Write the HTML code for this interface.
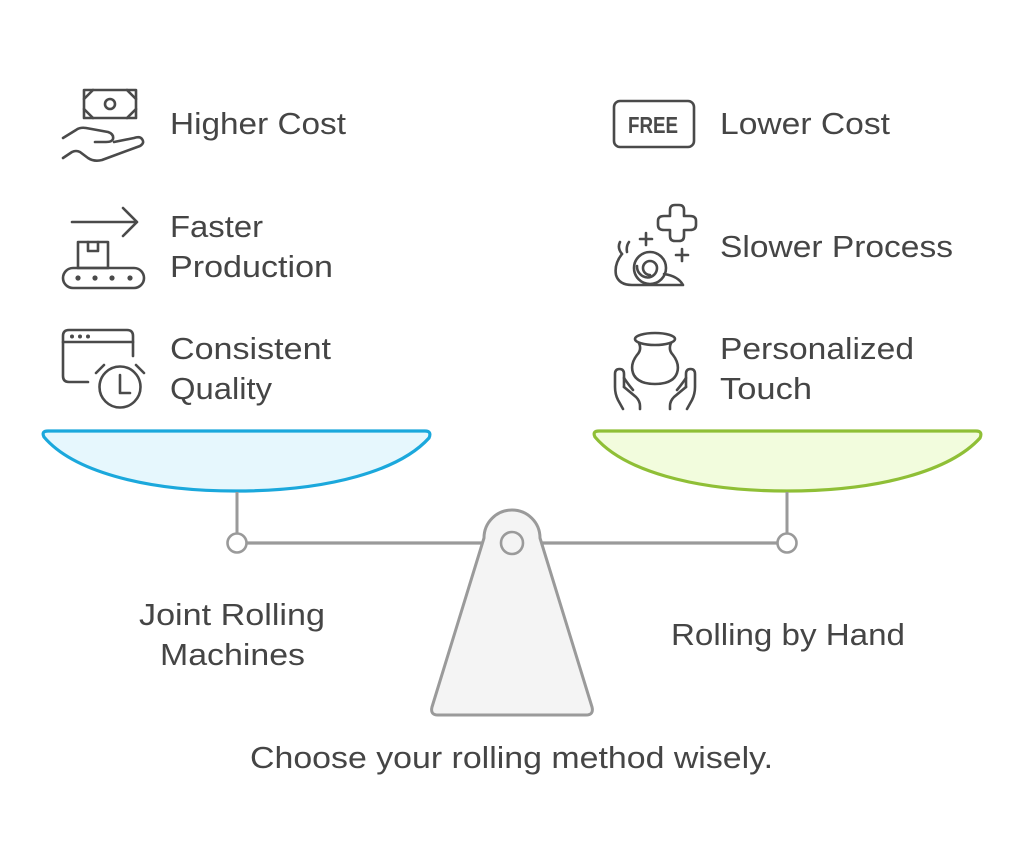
<!DOCTYPE html>
<html>
<head>
<meta charset="utf-8">
<style>
html,body{margin:0;padding:0;background:#fff;}
svg{display:block;}
text{font-family:"Liberation Sans",Arial,sans-serif;fill:#454545;}
</style>
</head>
<body>
<svg width="1024" height="861" viewBox="0 0 1024 861" xmlns="http://www.w3.org/2000/svg">
  <rect width="1024" height="861" fill="#ffffff"/>

  <!-- Bowls -->
  <path d="M44,437 Q41,431 48,431 L425,431 Q432,431 429,438 C400,470 330,491 236,491 C142,491 72,470 44,437 Z" fill="#e6f7fd" stroke="#1ba8dc" stroke-width="3.2" stroke-linejoin="round"/>
  <path d="M595,437 Q592,431 599,431 L976,431 Q983,431 980,438 C951,470 881,491 787,491 C693,491 623,470 595,437 Z" fill="#f2fcdd" stroke="#8fbf36" stroke-width="3.2" stroke-linejoin="round"/>

  <!-- stems -->
  <line x1="237" y1="492" x2="237" y2="533" stroke="#9a9a9a" stroke-width="3"/>
  <line x1="787" y1="492" x2="787" y2="533" stroke="#9a9a9a" stroke-width="3"/>
  <!-- beam -->
  <line x1="246" y1="543" x2="778" y2="543" stroke="#9a9a9a" stroke-width="3.2"/>
  <circle cx="237" cy="543" r="9.5" fill="#fff" stroke="#9a9a9a" stroke-width="2.6"/>
  <circle cx="787" cy="543" r="9.5" fill="#fff" stroke="#9a9a9a" stroke-width="2.6"/>

  <!-- fulcrum -->
  <path d="M484,538 A28,28 0 0 1 540,538 L592,707 Q594,715 586,715 L438,715 Q430,715 432,707 Z" fill="#f4f4f4" stroke="#9a9a9a" stroke-width="3" stroke-linejoin="round"/>
  <circle cx="512" cy="543" r="11" fill="#f4f4f4" stroke="#9a9a9a" stroke-width="2.6"/>

  <!-- Icons -->
  <g fill="none" stroke="#4a4a4a" stroke-width="2.6" stroke-linecap="round" stroke-linejoin="round">
    <!-- money hand -->
    <rect x="84" y="90" width="52" height="28"/>
    <path d="M84,99 L93,90 M127,90 L136,99 M84,109 L93,118 M127,118 L136,109"/>
    <circle cx="110" cy="104" r="5"/>
    <path d="M63,138 L76,130 Q80,127 86,128 L108,132 Q114,134 113,139 Q112,142 106,142 L95,142"/>
    <path d="M63,158 L72,152 Q76,150 80,152 L88,158 Q94,162 102,160 L140,146 Q145,143 142,139 Q140,136 134,138 L114,142"/>

    <!-- conveyor -->
    <path d="M72,222 L137,222 M123,208 L137,222 L123,236"/>
    <rect x="78" y="242" width="30" height="26"/>
    <path d="M88,242 L88,251 L98,251 L98,242"/>
    <rect x="63" y="268" width="81" height="20" rx="10"/>

    <!-- window clock -->
    <path d="M133,356 L133,336 Q133,330 127,330 L69,330 Q63,330 63,336 L63,376 Q63,382 69,382 L88,382"/>
    <path d="M63,342 L133,342"/>
    <circle cx="120" cy="387" r="20.5"/>
    <path d="M120,375 L120,393 L130,393"/>
    <path d="M96,373 L104,365 M136,365 L144,373"/>

    <!-- FREE -->
    <rect x="614" y="101" width="80" height="46" rx="6"/>

    <!-- snail -->
    <path d="M670,210 Q670,205 675,205 L679,205 Q684,205 684,210 L684,216 L690,216 Q696,216 696,221 L696,225 Q696,230 690,230 L684,230 L684,236 Q684,241 679,241 L675,241 Q670,241 670,236 L670,230 L664,230 Q658,230 658,225 L658,221 Q658,216 664,216 L670,216 Z"/>
    <path d="M646,233 L646,245 M640,239 L652,239"/>
    <path d="M682,249 L682,261 M676,255 L688,255"/>
    <circle cx="650" cy="268" r="16"/>
    <path d="M650,275 A7,7 0 1 1 657,268 A9.5,9.5 0 0 1 647.5,277.5 A11,11 0 0 1 637,266"/>
    <path d="M622,254 Q614,264 616,275 Q619,285 632,285 L683,285 Q678,276 664,274"/>
    <path d="M622,254 Q617,248 620,242 M627,252 Q626,246 629,242"/>

    <!-- vase hands -->
    <ellipse cx="655" cy="339" rx="20" ry="6"/>
    <path d="M639,343 Q642,350 637,355 Q630,364 633,373 Q637,384 655,384 Q673,384 677,373 Q680,364 673,355 Q668,350 671,343"/>
    <path d="M623,409 L618,400 Q615,394 615,387 L615,374 Q615,369 619.5,369 Q624,369 624,374 L624,387"/>
    <path d="M624,387 L636,397 Q640,401 640,406 L640,409"/>
    <path d="M624,378 Q628,384 633,390"/>
    <path d="M687,409 L692,400 Q695,394 695,387 L695,374 Q695,369 690.5,369 Q686,369 686,374 L686,387"/>
    <path d="M686,387 L674,397 Q670,401 670,406 L670,409"/>
    <path d="M686,378 Q682,384 677,390"/>
  </g>
  <g fill="#4a4a4a">
    <circle cx="78" cy="278" r="2.6"/>
    <circle cx="95" cy="278" r="2.6"/>
    <circle cx="112" cy="278" r="2.6"/>
    <circle cx="130" cy="278" r="2.6"/>
    <circle cx="72" cy="336.5" r="2"/>
    <circle cx="80" cy="336.5" r="2"/>
    <circle cx="88" cy="336.5" r="2"/>
  </g>
  <text x="628" y="133" font-size="23" font-weight="bold" textLength="50" lengthAdjust="spacingAndGlyphs" style="fill:#4a4a4a">FREE</text>

  <!-- Labels -->
  <g font-size="31">
    <text x="170" y="134" textLength="176" lengthAdjust="spacingAndGlyphs">Higher Cost</text>
    <text x="170" y="237" textLength="93" lengthAdjust="spacingAndGlyphs">Faster</text>
    <text x="170" y="277" textLength="163" lengthAdjust="spacingAndGlyphs">Production</text>
    <text x="170" y="359" textLength="161" lengthAdjust="spacingAndGlyphs">Consistent</text>
    <text x="170" y="399" textLength="102" lengthAdjust="spacingAndGlyphs">Quality</text>

    <text x="720" y="134" textLength="170" lengthAdjust="spacingAndGlyphs">Lower Cost</text>
    <text x="720" y="257" textLength="233" lengthAdjust="spacingAndGlyphs">Slower Process</text>
    <text x="720" y="359" textLength="194" lengthAdjust="spacingAndGlyphs">Personalized</text>
    <text x="720" y="399" textLength="92" lengthAdjust="spacingAndGlyphs">Touch</text>

    <text x="139" y="625" textLength="186" lengthAdjust="spacingAndGlyphs">Joint Rolling</text>
    <text x="160" y="665" textLength="145" lengthAdjust="spacingAndGlyphs">Machines</text>
    <text x="671" y="645" textLength="234" lengthAdjust="spacingAndGlyphs">Rolling by Hand</text>

    <text x="250" y="768" textLength="523" lengthAdjust="spacingAndGlyphs">Choose your rolling method wisely.</text>
  </g>
</svg>
</body>
</html>
